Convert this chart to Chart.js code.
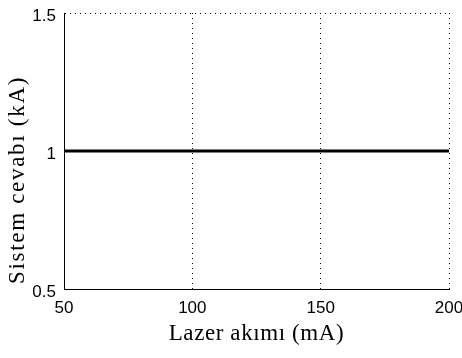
<!DOCTYPE html>
<html>
<head>
<meta charset="utf-8">
<script src="https://cdn.jsdelivr.net/npm/chart.js@4.4.0/dist/chart.umd.min.js"></script>
<style>
  html, body { margin:0; padding:0; background:#fff; }
  #wrap { width:462px; height:358px; }
</style>
</head>
<body>
<div id="wrap"><canvas id="c" width="462" height="358"></canvas></div>
<script>
// ─── Data ────────────────────────────────────────────────────────────────────
const currentMA  = [50, 100, 150, 200];      // Lazer akımı (mA)
const responseKA = [1, 1, 1, 1];             // Sistem cevabı (kA)
const xTicks = [50, 100, 150, 200];
const yTicks = [0.5, 1, 1.5];

const tickFont  = { family:"'Liberation Sans', Arial, sans-serif", size:17 };
const titleFont = { family:"'Liberation Serif', 'Times New Roman', serif", size:23 };

// spaced-out titles like the exported figure
const titleTweak = { x:{ spacing:'0.6px', dy:1 }, y:{ spacing:'1.7px', dy:29 } };

new Chart(document.getElementById('c'), {
  type: 'line',
  data: { datasets: [{
    data: currentMA.map((x, i) => ({ x, y: responseKA[i] })),
    borderColor:'#000', borderWidth:3, pointRadius:0, fill:false, tension:0
  }]},
  options: {
    responsive:false, animation:false,
    layout:{ padding:{ left:0, right:13, top:13, bottom:0 } },
    plugins:{ legend:{display:false}, tooltip:{enabled:false} },
    scales:{
      x:{
        type:'linear', min:50, max:200,
        afterBuildTicks: ax => { ax.ticks = xTicks.map(v => ({ value:v })); },
        afterFit: ax => { ax.height = 69; ax.paddingLeft = 0; ax.paddingRight = 0; },
        grid:{ color:'#000', lineWidth:1, drawTicks:false },
        border:{ display:true, color:'#000', width:1, dash:[1,4] },
        ticks:{ color:'#000', font:tickFont, padding:9, maxRotation:0 },
        title:{ display:true, text:'Lazer akımı (mA)', color:'#000', font:titleFont, padding:{ top:0, bottom:11 } }
      },
      y:{
        type:'linear', min:0.5, max:1.5,
        afterBuildTicks: ax => { ax.ticks = yTicks.map(v => ({ value:v })); },
        afterFit: ax => { ax.width = 64; ax.paddingTop = 0; ax.paddingBottom = 0; },
        grid:{ color:'#000', lineWidth:1, drawTicks:false },
        border:{ display:true, color:'#000', width:1, dash:[1,4] },
        ticks:{ color:'#000', font:tickFont, padding:8, labelOffset:3, callback:v => String(v) },
        title:{ display:true, text:'Sistem cevabı (kA)', color:'#000', font:titleFont, padding:{ top:4, bottom:0 } }
      }
    }
  },
  plugins:[{
    id:'axesLook',
    beforeDraw(chart) {
      const ctx = chart.ctx;
      ['x','y'].forEach(k => {
        const s = chart.scales[k];
        if (s._tweaked) return;
        const orig = s.drawTitle;
        s.drawTitle = function() {
          ctx.save();
          ctx.letterSpacing = titleTweak[k].spacing;
          ctx.translate(0, titleTweak[k].dy);
          orig.apply(this, arguments);
          ctx.restore();
        };
        s._tweaked = true;
      });
    },
    afterDatasetsDraw(chart) {
      // solid left and bottom axis lines
      const { ctx, chartArea:a } = chart;
      ctx.save();
      ctx.strokeStyle = '#000'; ctx.lineWidth = 1;
      ctx.beginPath();
      ctx.moveTo(a.left + 0.5, a.top);
      ctx.lineTo(a.left + 0.5, a.bottom + 0.5);
      ctx.lineTo(a.right, a.bottom + 0.5);
      ctx.stroke();
      ctx.restore();
    }
  }]
});
</script>
</body>
</html>
